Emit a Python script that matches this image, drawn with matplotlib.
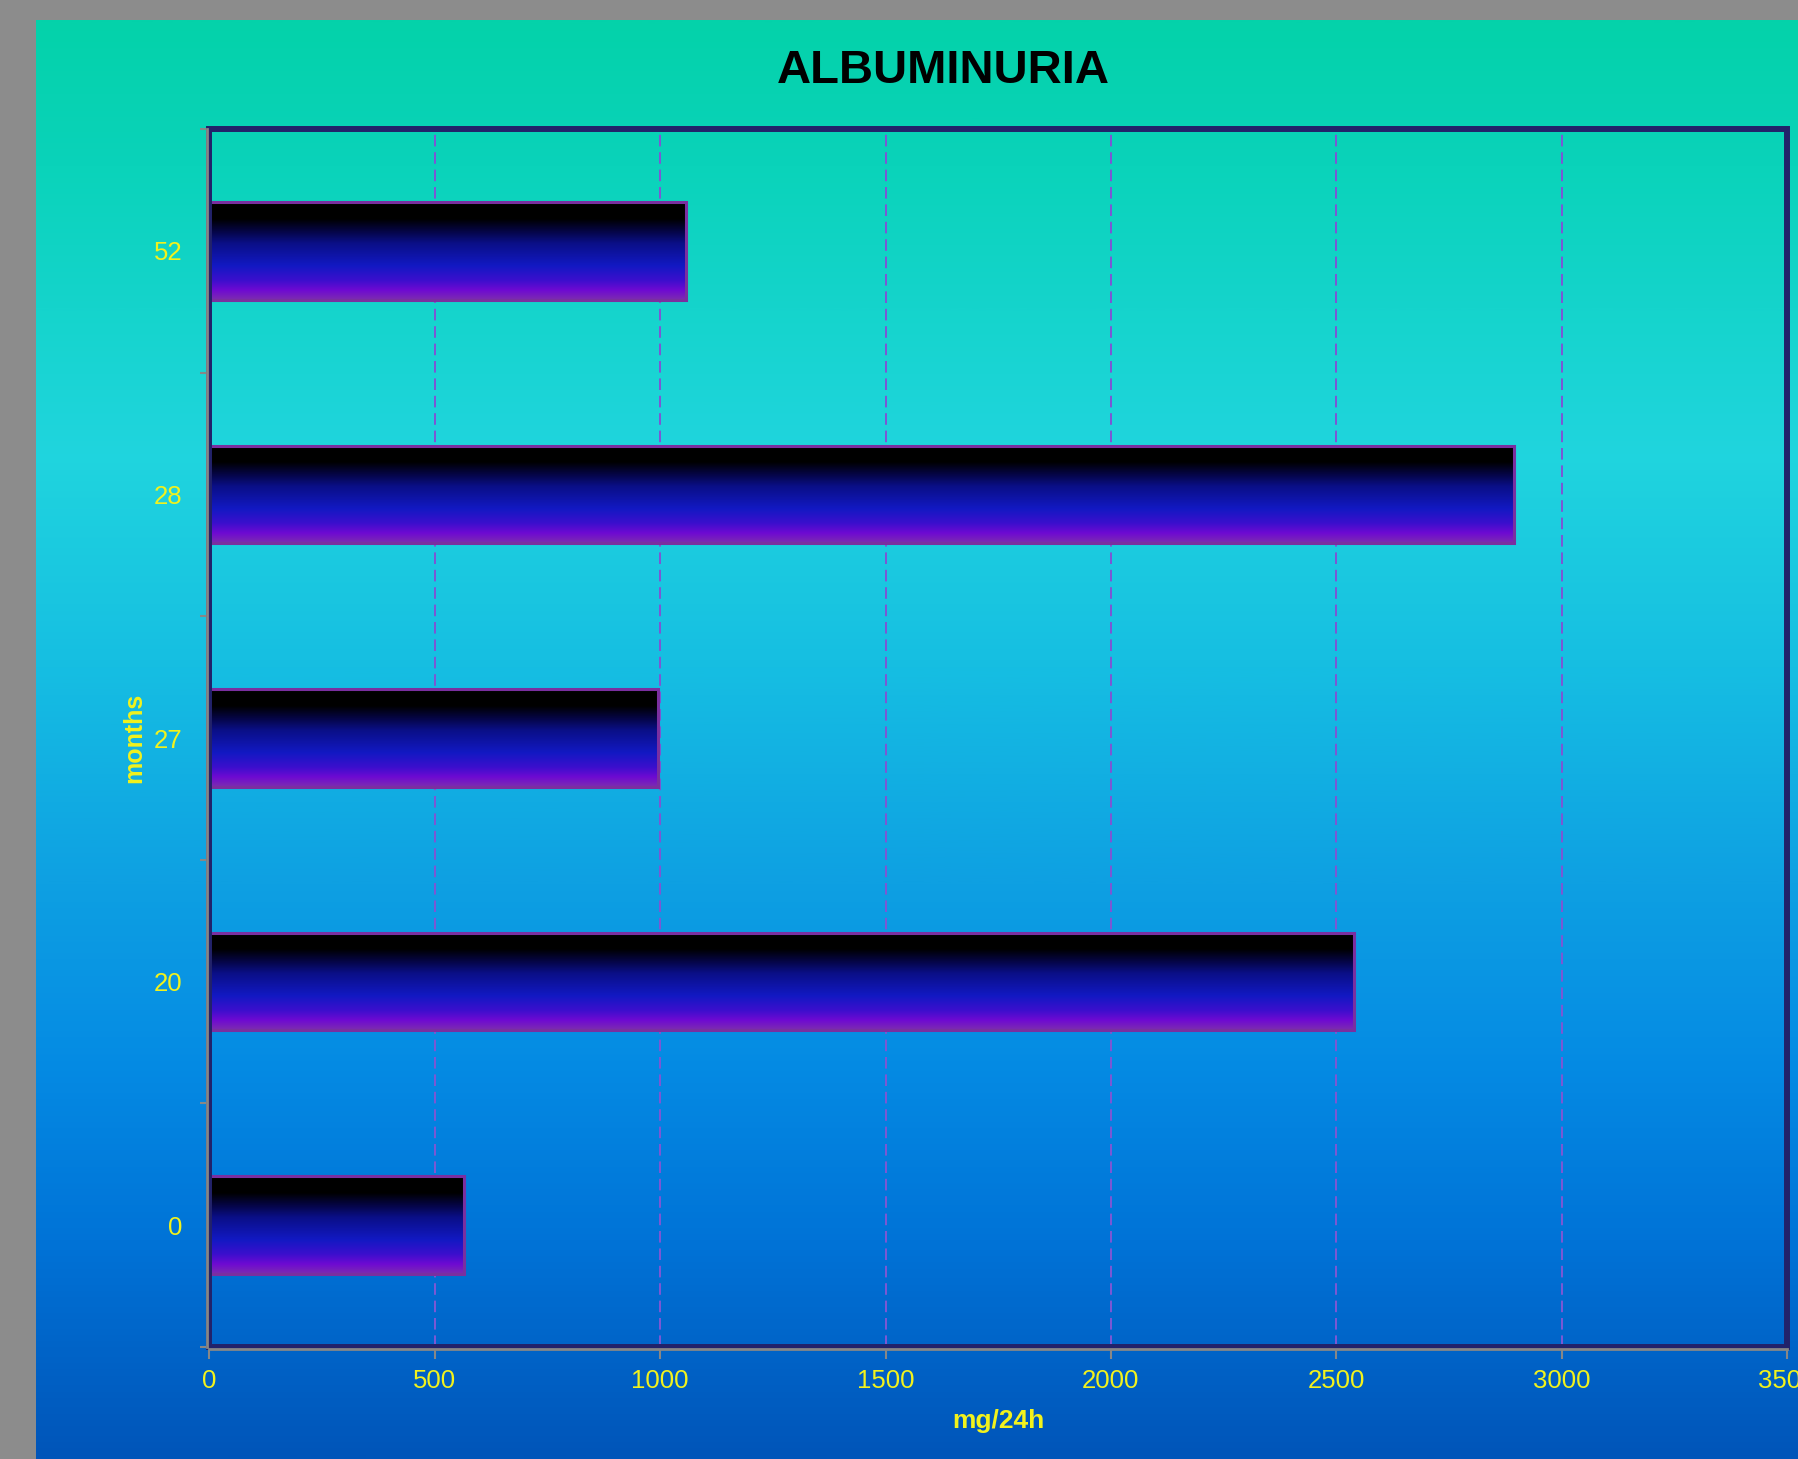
import numpy as np
import matplotlib
matplotlib.use("Agg")
import matplotlib.pyplot as plt
from matplotlib.colors import LinearSegmentedColormap
from matplotlib.patches import Rectangle

# ---- data ----
categories = ["0", "20", "27", "28", "52"]
values = [565, 2540, 995, 2895, 1058]
x_ticks = [0, 500, 1000, 1500, 2000, 2500, 3000, 3500]
title = "ALBUMINURIA"
x_label = "mg/24h"
y_label = "months"

W, H, DPI = 1799, 1459, 100
plt.rcParams['font.family'] = ['Liberation Sans', 'DejaVu Sans']

fig = plt.figure(figsize=(W / DPI, H / DPI), dpi=DPI)
fig.patch.set_facecolor('#8c8c8c')

def c(r, g, b):
    return (r / 255, g / 255, b / 255)

# background panel gradient
bg_cmap = LinearSegmentedColormap.from_list("bg", [
    (0.00, c(4, 210, 170)),
    (0.10, c(10, 211, 186)),
    (0.30, c(32, 213, 222)),
    (0.45, c(22, 190, 226)),
    (0.60, c(14, 160, 226)),
    (0.72, c(5, 140, 228)),
    (0.85, c(0, 115, 215)),
    (1.00, c(0, 85, 185)),
])
bg = fig.add_axes([36 / W, 0, 1 - 36 / W, (H - 20) / H], zorder=0)
bg.imshow(np.linspace(0, 1, 512).reshape(-1, 1), cmap=bg_cmap, aspect='auto',
          extent=[0, 1, 0, 1], origin='upper')
bg.set_axis_off()

# main axes
left, right, top, bottom = 209.5, 1787, 129, 1347
ax = fig.add_axes([left / W, (H - bottom) / H, (right - left) / W, (bottom - top) / H], zorder=1)
ax.set_facecolor('none')

yellow = '#f2f21c'
gray = '#878787'
navy = '#22226a'

bar_cmap = LinearSegmentedColormap.from_list("bar", [
    (0.00, c(0, 0, 0)),
    (0.17, c(0, 0, 0)),
    (0.30, c(5, 5, 70)),
    (0.42, c(10, 15, 135)),
    (0.65, c(18, 25, 195)),
    (0.80, c(60, 15, 205)),
    (0.90, c(110, 10, 210)),
    (1.00, c(125, 45, 175)),
])

ypos = np.arange(len(categories))
bars = ax.barh(ypos, values, height=0.4, facecolor='none', edgecolor='#7a2fa0',
               linewidth=2.2, zorder=3)
grad = np.linspace(0, 1, 256).reshape(-1, 1)
for p in bars:
    x0, y0 = p.get_x(), p.get_y()
    w, h = p.get_width(), p.get_height()
    im = ax.imshow(grad, extent=[x0, x0 + w, y0, y0 + h], origin='upper',
                   aspect='auto', cmap=bar_cmap, zorder=2, interpolation='bilinear')
    im.set_clip_path(p)

ax.set_xlim(0, 3500)
ax.set_ylim(-0.5, len(categories) - 0.5)
ax.set_aspect('auto')

ax.set_xticks(x_ticks)
ax.set_xticklabels([str(t) for t in x_ticks])
ax.set_yticks(ypos)
ax.set_yticklabels(categories)
ax.set_yticks(np.arange(-0.5, len(categories), 1.0), minor=True)

ax.grid(axis='x', color='#7a58d4', linewidth=1.44, linestyle=(0, (5.8, 2.9)), zorder=1)
ax.set_axisbelow(True)

ax.add_patch(Rectangle((0, 0), 1, 1, transform=ax.transAxes, fill=False,
                       edgecolor=navy, linewidth=4.3, clip_on=False, zorder=5))

for s in ['top', 'right']:
    ax.spines[s].set_visible(False)
for s in ['left', 'bottom']:
    ax.spines[s].set_color(gray)
    ax.spines[s].set_linewidth(2.0)
    ax.spines[s].set_position(('outward', 1.6))
    ax.spines[s].set_zorder(6)

ax.tick_params(axis='x', which='major', direction='out', length=7, width=1.5,
               color=gray, labelcolor=yellow, labelsize=18.5, pad=7)
ax.tick_params(axis='y', which='major', length=0, labelcolor=yellow,
               labelsize=18.5, pad=18)
ax.tick_params(axis='y', which='minor', direction='out', length=5, width=1.5,
               color=gray)

ax.set_xlabel(x_label, color=yellow, fontsize=19, fontweight='bold', labelpad=12)
ax.set_ylabel(y_label, color=yellow, fontsize=18, fontweight='bold', labelpad=5)

fig.text(943 / W, (H - 83) / H, title, ha='center', va='baseline',
         fontsize=34, fontweight='bold', color='black')

fig.savefig("out.png", dpi=DPI, facecolor=fig.get_facecolor())
